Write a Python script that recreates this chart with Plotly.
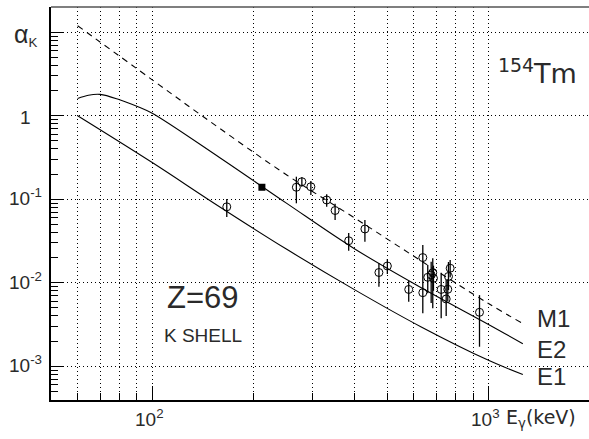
import numpy as np
import plotly.graph_objects as go

# ---- data ----
E1_E = [60, 100, 158.5, 251.2, 398.1, 631, 1000, 1265]
E1_A = [1.0, 0.275, 0.0813, 0.0251, 0.00832, 0.00295, 0.001175, 0.000794]

E2_E = [60, 64.6, 70, 80, 91.5, 100, 158.5, 251.2, 398.1, 631, 1000, 1265]
E2_A = [1.61, 1.76, 1.80, 1.55, 1.26, 1.07, 0.316, 0.0891, 0.0257, 0.0087, 0.00316, 0.00186]

M1_E = [60, 100, 158.5, 251.2, 398.1, 631, 1000, 1265]
M1_A = [11.97, 2.69, 0.708, 0.195, 0.0603, 0.0182, 0.00562, 0.00324]

exp_E = [166.6, 268.3, 278.6, 296.3, 330.2, 349.8, 383.9, 429.0, 472.2, 500.3, 579.1,
         637.7, 637.7, 659.7, 675.3, 682.7, 686.0, 723.2, 748.4, 756.7, 760.3, 769.1, 940.2]
exp_A = [0.081, 0.139, 0.162, 0.141, 0.0978, 0.0732, 0.0318, 0.0440, 0.01325, 0.01585, 0.0083,
         0.0200, 0.00759, 0.0116, 0.01237, 0.01318, 0.0113, 0.0083, 0.00638, 0.00834, 0.01187, 0.0149, 0.00442]
exp_hi = [0.1005, 0.186, 0.183, 0.165, 0.115, 0.0883, 0.0394, 0.0563, 0.0171, 0.0192, 0.0105,
          0.0283, 0.01236, 0.01626, 0.0178, 0.0196, 0.0160, 0.0132, 0.01077, 0.0110, 0.0177, 0.0187, 0.0071]
exp_lo = [0.0612, 0.0893, 0.141, 0.112, 0.0813, 0.0563, 0.0242, 0.031, 0.00896, 0.0127, 0.00592,
          0.01236, 0.0043, 0.00746, 0.00571, 0.00493, 0.0080, 0.00375, 0.0040, 0.0060, 0.00818, 0.0116, 0.00171]

sq_E = [211.9]
sq_A = [0.139]

y_major = [10, 1, 0.1, 0.01, 0.001]
y_labels = ["<span style='font-size:25px'>\u03b1</span><sub>K</sub>", "1",
            "10<sup>-1</sup>", "10<sup>-2</sup>", "10<sup>-3</sup>"]
x_major = [100, 1000]
x_labels = ["10<sup>2</sup>", "10<sup>3</sup>"]
x_minor = [60, 70, 80, 90, 200, 300, 400, 500, 600, 700, 800, 900]
y_minor = [m * 10.0 ** d for d in range(-4, 2) for m in range(2, 10) if 4e-4 <= m * 10.0 ** d <= 20]

FONT = "Liberation Sans"
TXT = "#2a2a2a"

fig = go.Figure()
line = dict(color="black", width=1.1)
fig.add_trace(go.Scatter(x=E1_E, y=E1_A, mode="lines", line=dict(line, shape="spline"), showlegend=False))
fig.add_trace(go.Scatter(x=E2_E, y=E2_A, mode="lines", line=dict(line, shape="spline"), showlegend=False))
fig.add_trace(go.Scatter(x=M1_E, y=M1_A, mode="lines",
                         line=dict(color="black", width=1.1, dash="6px,5px", shape="spline"), showlegend=False))

plus = [h - a for h, a in zip(exp_hi, exp_A)]
minus = [a - l for a, l in zip(exp_A, exp_lo)]
fig.add_trace(go.Scatter(x=exp_E, y=exp_A, mode="markers",
                         marker=dict(symbol="circle-open", size=8, color="black", line=dict(width=1, color="black")),
                         error_y=dict(type="data", array=plus, arrayminus=minus, width=0, thickness=1.3, color="black"),
                         showlegend=False))
fig.add_trace(go.Scatter(x=sq_E, y=sq_A, mode="markers",
                         marker=dict(symbol="square", size=7, color="black"), showlegend=False))

grid = dict(gridcolor="black", gridwidth=1, griddash="1px,3px")
fig.update_xaxes(type="log", range=[np.log10(50), np.log10(1990)],
                 tickvals=x_major, showticklabels=False,
                 ticks="inside", ticklen=14, tickwidth=1, tickcolor="black",
                 showgrid=True, **grid,
                 minor=dict(tickvals=x_minor, ticks="inside", ticklen=7, tickwidth=1, tickcolor="black",
                            showgrid=True, gridcolor="black", gridwidth=1, griddash="1px,3px"),
                 showline=True, linecolor="black", linewidth=2, zeroline=False)
fig.update_yaxes(type="log", range=[-3.405, 1.302],
                 tickvals=y_major, showticklabels=False,
                 ticks="inside", ticklen=13, tickwidth=1, tickcolor="black",
                 showgrid=True, **grid,
                 minor=dict(tickvals=y_minor, ticks="inside", ticklen=7, tickwidth=1, tickcolor="black",
                            showgrid=False),
                 showline=True, linecolor="black", linewidth=2, zeroline=False)

ann = []
for v, t in zip(y_major, y_labels):
    ys = 2 if "sup" in t else -2
    if "K" in t:
        ys = -3
    ann.append(dict(x=-0.0483, xref="paper", y=np.log10(v), yref="y", text=t, showarrow=False,
                    xanchor="center", yanchor="middle", yshift=ys, font=dict(family=FONT, size=19, color=TXT)))
for v, t in zip(x_major, x_labels):
    ann.append(dict(x=np.log10(v), xref="x", y=-0.047, yref="paper", text=t, showarrow=False,
                    xanchor="center", yanchor="middle", xshift=-3, font=dict(family=FONT, size=19, color=TXT)))
ann.append(dict(x=0.842, xref="paper", y=-0.047, yref="paper", text="E<sub>\u03b3</sub>(keV)", showarrow=False,
                xanchor="left", yanchor="middle", font=dict(family="DejaVu Sans", size=19, color=TXT)))
ann.append(dict(x=0.905, xref="paper", y=0.835, yref="paper", text="<sup>154</sup>Tm", showarrow=False,
                xanchor="center", yanchor="middle", font=dict(family="DejaVu Sans", size=27, color=TXT)))
ann.append(dict(x=0.283, xref="paper", y=0.260, yref="paper", text="Z=69", showarrow=False,
                xanchor="center", yanchor="middle", font=dict(family=FONT, size=31, color=TXT)))
ann.append(dict(x=0.283, xref="paper", y=0.163, yref="paper", text="K SHELL", showarrow=False,
                xanchor="center", yanchor="middle", font=dict(family=FONT, size=19, color=TXT)))
for lab, ypx in [("M1", 318), ("E2", 349), ("E1", 376)]:
    ann.append(dict(x=(535 - 51) / 538, xref="paper", y=(400 - ypx) / 393, yref="paper", text=lab,
                    showarrow=False, xanchor="left", yanchor="middle",
                    font=dict(family=FONT, size=24, color=TXT)))

fig.update_layout(width=589, height=439, margin=dict(l=51, r=0, t=7, b=39),
                  paper_bgcolor="white", plot_bgcolor="white", annotations=ann,
                  shapes=[dict(type="line", xref="paper", yref="paper", x0=0, x1=1, y0=1, y1=1,
                               line=dict(color="#555", width=1.5))])
fig.write_html("out.html")
